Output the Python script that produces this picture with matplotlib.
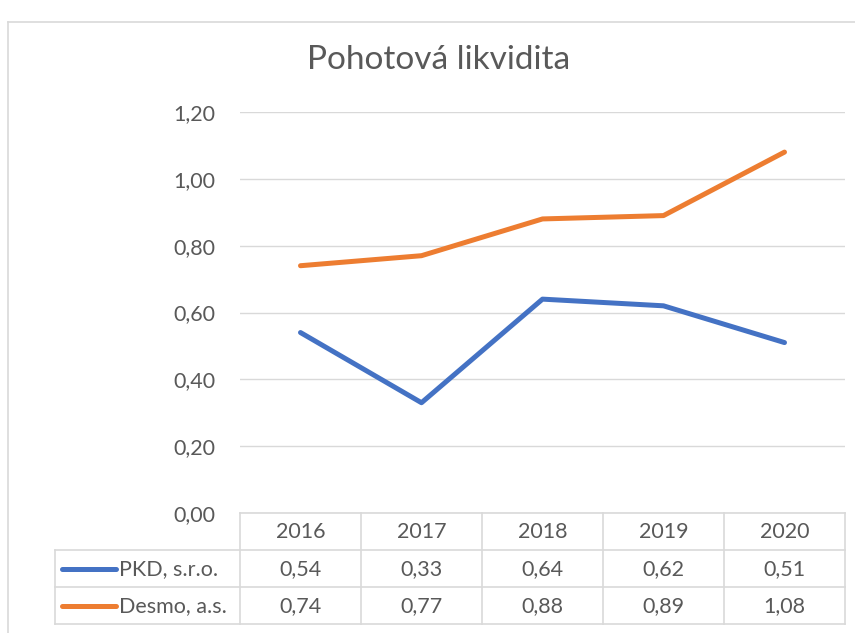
import matplotlib.pyplot as plt
from matplotlib.lines import Line2D

years = ["2016", "2017", "2018", "2019", "2020"]
pkd = [0.54, 0.33, 0.64, 0.62, 0.51]
desmo = [0.74, 0.77, 0.88, 0.89, 1.08]
series_names = ["PKD, s.r.o.", "Desmo, a.s."]
series_colors = ["#4472C4", "#ED7D31"]
yticks = [0.0, 0.2, 0.4, 0.6, 0.8, 1.0, 1.2]

plt.rcParams['font.family'] = ['Lato', 'DejaVu Sans']
txt = "#595959"
grid_c = "#D9D9D9"
fs = 15.5

W, H = 855, 633
fig = plt.figure(figsize=(W / 100, H / 100), dpi=100)

# plot area in pixels
L, R, T, B = 240, 845, 112, 513
ax = fig.add_axes([L / W, 1 - B / H, (R - L) / W, (B - T) / H])
ax.set_xlim(-0.5, len(years) - 0.5)
ax.set_ylim(0, 1.2)
for vals, c in zip([pkd, desmo], series_colors):
    ax.plot(range(len(years)), vals, color=c, lw=3.6, solid_capstyle='round')
ax.set_yticks(yticks)
ax.set_yticklabels([f"{v:.2f}".replace(".", ",") for v in yticks], color=txt, fontsize=fs)
ax.tick_params(axis='y', length=0, pad=18)
ax.set_xticks([])
ax.grid(axis='y', color=grid_c, lw=1)
ax.set_axisbelow(True)
for s in ax.spines.values():
    s.set_visible(False)

# overlay in pixel coordinates for frame, title and data table
ov = fig.add_axes([0, 0, 1, 1], zorder=-1)
ov.set_xlim(0, W)
ov.set_ylim(H, 0)
ov.axis('off')
ov.add_line(Line2D([8, 8], [22, H], color=grid_c, lw=1.2))
ov.add_line(Line2D([8, W], [22, 22], color=grid_c, lw=1.2))
ov.text(439, 60, "Pohotová likvidita", ha='center', va='center', fontsize=24, color=txt)

tab = fig.add_axes([0, 0, 1, 1], zorder=2)
tab.set_xlim(0, W)
tab.set_ylim(H, 0)
tab.axis('off')
col_w = (R - L) / len(years)
rows = [513, 550, 587, 624]
lc = "#D9D9D9"
tab.add_line(Line2D([L, R], [rows[0], rows[0]], color=lc, lw=1.2))
for y in rows[1:]:
    tab.add_line(Line2D([55, R], [y, y], color=lc, lw=1.2))
for i in range(len(years) + 1):
    x = L + i * col_w
    tab.add_line(Line2D([x, x], [rows[0], rows[-1]], color=lc, lw=1.2))
tab.add_line(Line2D([55, 55], [rows[1], rows[-1]], color=lc, lw=1.2))
for i, yr in enumerate(years):
    tab.text(L + (i + 0.5) * col_w, (rows[0] + rows[1]) / 2 + 1, yr,
             ha='center', va='center', fontsize=fs, color=txt)
for r, (name, vals, c) in enumerate(zip(series_names, [pkd, desmo], series_colors)):
    yc = (rows[r + 1] + rows[r + 2]) / 2 + 1
    tab.add_line(Line2D([62, 116], [yc - 1, yc - 1], color=c, lw=3.6, solid_capstyle='round'))
    tab.text(119, yc, name, ha='left', va='center', fontsize=fs, color=txt)
    for i, v in enumerate(vals):
        tab.text(L + (i + 0.5) * col_w, yc, f"{v:.2f}".replace(".", ","),
                 ha='center', va='center', fontsize=fs, color=txt)

fig.savefig("out.png", dpi=100, facecolor='white')
